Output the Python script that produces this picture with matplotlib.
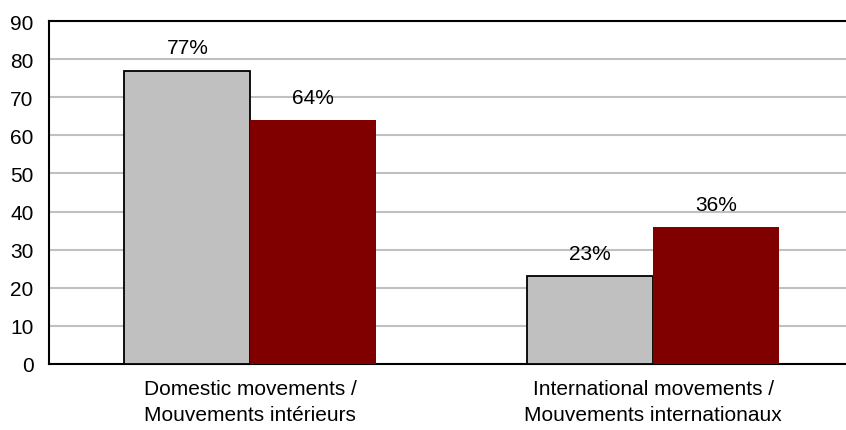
import numpy as np
import matplotlib.pyplot as plt

plt.rcParams['font.family'] = ['Liberation Sans', 'DejaVu Sans']

categories = ['Domestic movements /\nMouvements intérieurs',
              'International movements /\nMouvements internationaux']
series_a = [77, 23]   # grey bars
series_b = [64, 36]   # dark red bars
yticks = [0, 10, 20, 30, 40, 50, 60, 70, 80, 90]

fig = plt.figure(figsize=(8.46, 4.31), dpi=100)
ax = fig.add_axes([49/846, 66/431, 805.5/846, 343/431])

x = np.arange(len(categories))
w = 0.313

b1 = ax.bar(x - w/2, series_a, w, color='#C0C0C0', edgecolor='black', linewidth=1.3, zorder=3)
b2 = ax.bar(x + w/2, series_b, w, color='#800000', edgecolor='none', zorder=3)

for bars, vals in ((b1, series_a), (b2, series_b)):
    for r, v in zip(bars, vals):
        ax.annotate('%d%%' % v, (r.get_x() + r.get_width()/2, v),
                    xytext=(0, 9.5), textcoords='offset points',
                    ha='center', va='bottom', fontsize=15)

ax.set_xlim(-0.5, 1.5)
ax.set_ylim(0, 90)
ax.set_yticks(yticks)
ax.set_xticks(x)
ax.set_xticklabels(categories, fontsize=15, linespacing=1.42)
ax.tick_params(axis='y', length=0, pad=11, labelsize=15)
ax.tick_params(axis='x', length=0, pad=11)

ax.yaxis.grid(True, color='#C0C0C0', linewidth=1.5, zorder=0)
ax.set_axisbelow(True)
for s in ['left', 'bottom', 'top']:
    ax.spines[s].set_linewidth(1.5)
    ax.spines[s].set_color('black')
ax.spines['right'].set_visible(False)
ax.spines['top'].set_zorder(4)

fig.savefig('out.png', dpi=100)
